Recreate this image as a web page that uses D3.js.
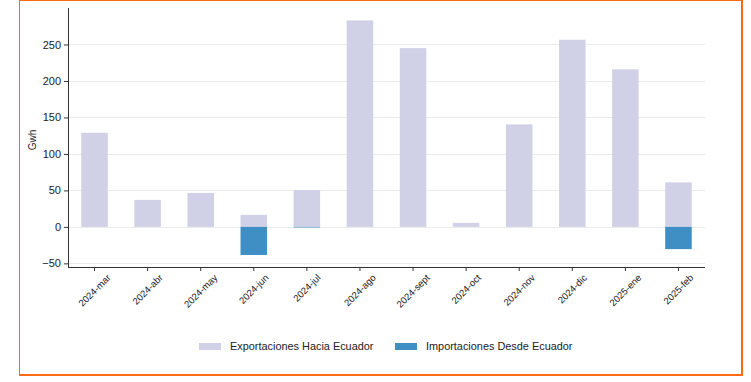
<!DOCTYPE html>
<html><head><meta charset="utf-8">
<script src="https://cdn.jsdelivr.net/npm/d3@7"></script>
<style>body{margin:0;background:#fff;}svg{display:block;font-family:"Liberation Sans",Arial,sans-serif;}</style>
</head><body>
<svg id="c" width="751" height="382"></svg>
<script>
const categories = ["2024-mar","2024-abr","2024-may","2024-jun","2024-jul","2024-ago","2024-sept","2024-oct","2024-nov","2024-dic","2025-ene","2025-feb"];
const exportaciones = [129, 37, 46.5, 16.5, 50.5, 283, 245, 5.5, 140.5, 256.5, 216, 61];
const importaciones = [0, 0, 0, -38.5, -0.8, 0, 0, 0, 0, 0, 0, -30.5];
const yTicks = [-50, 0, 50, 100, 150, 200, 250];
const seriesNames = ["Exportaciones Hacia Ecuador", "Importaciones Desde Ecuador"];
const colors = ["#d0d1e6", "#3f8fc4"];

const svg = d3.select("#c");
// orange frame
svg.append("rect").attr("x",19.5).attr("y",0.5).attr("width",722).attr("height",374).attr("fill","none").attr("stroke","#ff6a13").attr("stroke-width",1);
svg.append("line").attr("x1",19).attr("x2",743).attr("y1",375).attr("y2",375).attr("stroke","#ff6a13").attr("stroke-width",2);
svg.append("line").attr("x1",742).attr("x2",742).attr("y1",0).attr("y2",376).attr("stroke","#ff6a13").attr("stroke-width",2);

const L = 68, R = 705, T = 8, B = 267;
const x = d3.scaleBand().domain(categories).range([L, R]).paddingInner(0.5).paddingOuter(0.25);
const y = d3.scaleLinear().domain([-55, 300]).range([B, T]);

// grid
svg.append("g").selectAll("line").data(yTicks).join("line")
  .attr("x1", L).attr("x2", R).attr("y1", d => Math.round(y(d))+0.5).attr("y2", d => Math.round(y(d))+0.5)
  .attr("stroke", "#ebebeb").attr("stroke-width", 1);

// bars
const g = svg.append("g");
g.selectAll("rect.exp").data(categories).join("rect").attr("class","exp")
  .attr("x", d => x(d)).attr("width", x.bandwidth())
  .attr("y", (d,i) => y(Math.max(0, exportaciones[i])))
  .attr("height", (d,i) => Math.abs(y(exportaciones[i]) - y(0)))
  .attr("fill", colors[0]);
g.selectAll("rect.imp").data(categories).join("rect").attr("class","imp")
  .attr("x", d => x(d)).attr("width", x.bandwidth())
  .attr("y", y(0))
  .attr("height", (d,i) => Math.abs(y(importaciones[i]) - y(0)))
  .attr("fill", colors[1]);

// axes
const yAxis = svg.append("g").attr("transform", `translate(${L},0)`)
  .call(d3.axisLeft(y).tickValues(yTicks).tickSize(4).tickPadding(3));
yAxis.select(".domain").attr("stroke", "#333").attr("d", `M0.5,${T}V${B}`);
yAxis.selectAll(".tick line").attr("stroke", "#333");
yAxis.selectAll("text").attr("font-size", 11).attr("fill", "#222").attr("font-family","Liberation Sans, Arial, sans-serif");

const xAxis = svg.append("g").attr("transform", `translate(0,${B})`)
  .call(d3.axisBottom(x).tickSize(4).tickPadding(2));
xAxis.select(".domain").attr("stroke", "#333").attr("d", `M${L},0.5H${R}`);
xAxis.selectAll(".tick line").attr("stroke", "#333");
xAxis.selectAll("text").attr("font-size", 9.5).attr("fill", "#222")
  .attr("font-family","Liberation Sans, Arial, sans-serif")
  .attr("text-anchor", "middle").attr("y", 0).attr("dy", "0.35em")
  .attr("transform", function() {
    const len = this.getComputedTextLength();
    const h = len * Math.SQRT1_2;
    return `translate(0,${7 + h/2 + 2}) rotate(-45)`;
  });

// y label
svg.append("text").attr("transform", "translate(36,140) rotate(-90)")
  .attr("text-anchor", "middle").attr("font-size", 10).attr("fill", "#222").text("Gwh");

// legend
const lg = svg.append("g");
const lx = [199, 395];
seriesNames.forEach((n, i) => {
  lg.append("rect").attr("x", lx[i]).attr("y", 343).attr("width", 22).attr("height", 7).attr("fill", colors[i]);
  lg.append("text").attr("x", lx[i] + 31).attr("y", 350).attr("font-size", 10.9).attr("fill", "#222").text(n);
});
</script>
</body></html>
